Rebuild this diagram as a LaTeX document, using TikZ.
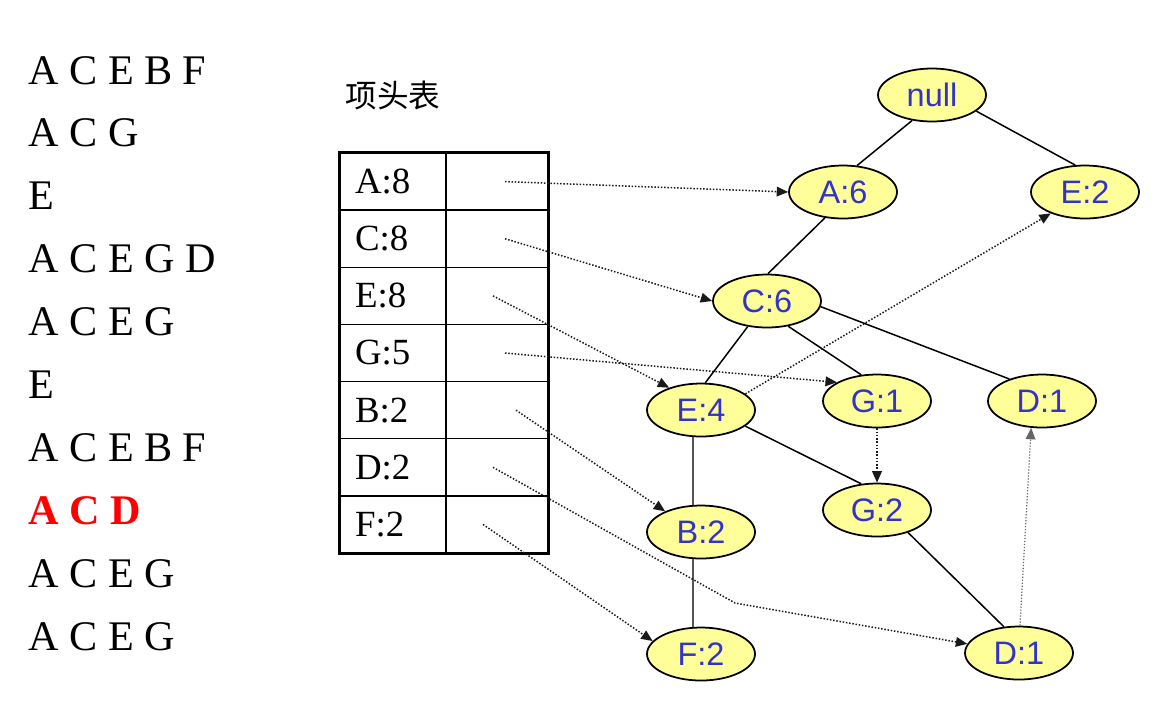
\documentclass[tikz,border=0pt]{standalone}
\usepackage{fontspec}
\setmainfont{Liberation Serif}
\newfontfamily\nodefont{Liberation Sans}
\newfontfamily\cjk{Noto Sans CJK SC}
\usetikzlibrary{arrows.meta,calc,positioning,shapes.geometric}
\definecolor{Pale}{HTML}{FFFF99}
\definecolor{Ink}{HTML}{3333CC}
\definecolor{Hot}{HTML}{FF0000}
\definecolor{Stem}{HTML}{555555}

\begin{document}
\begin{tikzpicture}[x=0.02cm,y=-0.02cm,
        trans/.style={anchor=base west,inner sep=0pt,font=\fontsize{24}{28}\selectfont},
        lcell/.style={draw,line width=0.8pt,minimum width=2.12cm,minimum height=1.143cm,text width=1.52cm,
          inner xsep=0.3cm,inner ysep=0pt,align=left,font=\fontsize{21}{24}\selectfont},
        pcell/.style={draw,line width=0.8pt,minimum width=2.04cm,minimum height=1.143cm,inner sep=0pt},
        tnode/.style={ellipse,draw,line width=1pt,fill=Pale,minimum width=2.16cm,minimum height=1.06cm,
          inner sep=0pt,text=Ink,font=\nodefont\fontsize{18.5}{20}\selectfont},
        link/.style={line width=0.85pt},
        ptr/.style={densely dotted,line width=0.85pt,black!90,-{Triangle[length=6.5pt,width=5.5pt]}}]
        \useasboundingbox (0,0) rectangle (1168,707);
        \foreach \seq [count=\i from 0] in {A C E B F,A C G,E,A C E G D,A C E G,E,A C E B F,
            {\color{Hot}\bfseries A C D},A C E G,A C E G}
          \node[trans] (t\i) at (28,84+62.9*\i) {\seq};
        \node[font=\cjk\fontsize{18}{20}\selectfont] (hdr) at (393,95) {项头表};
        \foreach \n/\lab [count=\i from 0] in {A/A:8,C/C:8,E/E:8,G/G:5,B/B:2,D/D:2,F/F:2}{
          \node[lcell] (l\n) at (393,181.6+57.14*\i) {\lab};
          \node[pcell] (p\n) at (497,181.6+57.14*\i) {};
        }
        \draw[line width=1.8pt] (lA.north west) rectangle (pF.south east);
        \foreach \n/\dx in {A/8,C/8,E/-4,G/8,B/19,D/-4,F/-14}
          \coordinate (s\n) at ($(p\n)+(\dx,0)$);
        \coordinate (dbend) at (735,603);
        \node[tnode] (root) at (932,95) {null};
        \node[tnode] (a6) at (843,192) {A:6};
        \node[tnode] (e2) at (1085,192) {E:2};
        \node[tnode] (c6) at (767,301) {C:6};
        \node[tnode] (e4) at (701,410) {E:4};
        \node[tnode] (g1) at (877,401) {G:1};
        \node[tnode] (d1r) at (1042,401) {D:1};
        \node[tnode] (g2) at (877,510) {G:2};
        \node[tnode] (b2) at (701,532) {B:2};
        \node[tnode] (f2) at (701,654) {F:2};
        \node[tnode] (d1b) at (1019,653) {D:1};
        \draw[link] (root.-128) -- (a6.62);
        \draw[link] (root.-20) -- (e2.110);
        \draw[link] (a6.-125) -- (c6.88);
        \draw[link] (c6.-127) -- (e4.81);
        \draw[link] (c6.-50) -- (g1.121);
        \draw[link] (c6.-6) -- (d1r.146);
        \draw[link,Stem,line width=1.2pt] (e4.-107) -- (b2.107);
        \draw[link,Stem,line width=1.2pt] (b2.-107) -- (f2.107);
        \draw[link] (e4.-20) -- (g2.121);
        \draw[link] (g2.-36) -- (d1b.120);
        \draw[ptr] (sA) -- (a6.west);
        \draw[ptr] (sC) -- (c6.west);
        \draw[ptr] (sE) -- (e4.145);
        \draw[ptr] (sG) -- (g1.155);
        \draw[ptr] (sB) -- (b2.150);
        \draw[ptr] (sD) -- (dbend) -- (d1b.170);
        \draw[ptr] (sF) -- (f2.165);
        \draw[ptr] (e4.20) -- (e2.212);
        \draw[ptr] (g1.south) -- (g2.north);
        \draw[ptr,black!60,line width=0.7pt] (d1b.88) -- (d1r.-112);
      \end{tikzpicture}
\end{document}
